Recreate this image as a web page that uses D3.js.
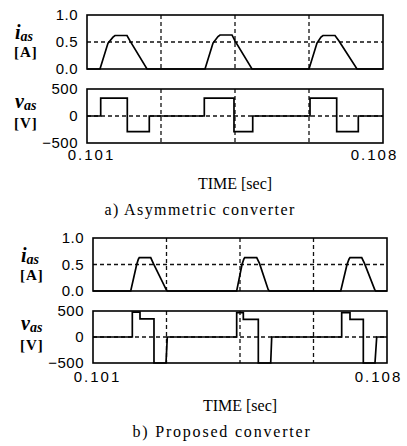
<!DOCTYPE html>
<html><head><meta charset="utf-8">
<script src="https://cdn.jsdelivr.net/npm/d3@7"></script>
<style>
body{margin:0;background:#fff;}
svg{display:block;}
</style></head>
<body><svg id="c" width="407" height="446"></svg>
<script>
// ---------- data ----------
const timeDomain = [0.101, 0.108];
const xTickValues = [0.101, 0.108];
const xTickLabels = ["0.101", "0.108"];
const gridTimes = [0.10275, 0.1045, 0.10625];
const iTicks = [0.0, 0.5, 1.0];
const vTicks = [-500, 0, 500];
const captions = ["a) Asymmetric converter", "b) Proposed converter"];

// a) asymmetric converter: phase current [A]
const iA_t = [0.101, 0.101307, 0.101497, 0.101615, 0.101662, 0.101946, 0.102017, 0.102419,
              0.103791, 0.103980, 0.104098, 0.104145, 0.104429, 0.104500, 0.104902,
              0.106250, 0.106439, 0.106534, 0.106581, 0.106865, 0.106959, 0.107385, 0.108];
const iA_v = [0, 0, 0.48, 0.59, 0.62, 0.62, 0.52, 0,
              0, 0.48, 0.60, 0.63, 0.63, 0.52, 0,
              0, 0.48, 0.59, 0.62, 0.62, 0.52, 0, 0];
// a) phase voltage [V] (step after)
const vA_t = [0.101, 0.101324, 0.101953, 0.102473, 0.103774, 0.104476, 0.104919, 0.106274, 0.106905, 0.107416, 0.108];
const vA_v = [0, 330, -290, 0, 330, -290, 0, 330, -290, 0, 0];

// b) proposed converter: phase current [A]
const iB_t = [0.101, 0.101898, 0.102040, 0.102080, 0.102102, 0.102374, 0.102436, 0.102740, 0.102769,
              0.104421, 0.104548, 0.104590, 0.104612, 0.104898, 0.104964, 0.105170, 0.105198,
              0.106898, 0.107048, 0.107095, 0.107119, 0.107398, 0.107464, 0.107705, 0.107731, 0.108];
const iB_v = [0, 0, 0.50, 0.60, 0.63, 0.63, 0.52, 0.03, 0,
              0, 0.50, 0.60, 0.63, 0.63, 0.52, 0.03, 0,
              0, 0.50, 0.60, 0.63, 0.63, 0.52, 0.03, 0, 0];
// b) phase voltage [V]
const vB_t = [0.101, 0.101936, 0.101936, 0.102119, 0.102119, 0.102452, 0.102452, 0.102738, 0.102769,
              0.104421, 0.104421, 0.104579, 0.104579, 0.104936, 0.104936, 0.105231, 0.105255,
              0.106921, 0.106921, 0.107119, 0.107119, 0.107436, 0.107436, 0.107714, 0.107755, 0.108];
const vB_v = [0, 0, 480, 480, 350, 350, -500, -500, 0,
              0, 470, 470, 340, 340, -500, -500, 0,
              0, 470, 470, 340, 340, -500, -500, 0, 0];

// ---------- layout ----------
const panels = [
  {left: 87, right: 383, iTop: 15, iBot: 69, vTop: 89, vBot: 143, tickY: 160, timeY: 189, capY: 215, capX: 200,
   it: iA_t, iv: iA_v, vt: vA_t, vv: vA_v, step: true, cap: captions[0], capLs: 1.4},
  {left: 93, right: 387, iTop: 238, iBot: 291, vTop: 311, vBot: 363, tickY: 382, timeY: 411, capY: 437, capX: 222,
   it: iB_t, iv: iB_v, vt: vB_t, vv: vB_v, step: false, cap: captions[1], capLs: 1.8}
];

const svg = d3.select("#c");
const serif = "'Liberation Serif','DejaVu Serif',serif";
const sans = "'Liberation Sans',Arial,sans-serif";

panels.forEach((p, k) => {
  const x = d3.scaleLinear().domain(timeDomain).range([p.left, p.right]);
  const yi = d3.scaleLinear().domain([0, 1]).range([p.iBot, p.iTop]);
  const yv = d3.scaleLinear().domain([-500, 500]).range([p.vBot, p.vTop]);
  const g = svg.append("g");

  const sub = [
    {y: yi, top: p.iTop, bot: p.iBot, ticks: iTicks, fmt: d3.format(".1f"), hgrid: 0.5,
     t: p.it, v: p.iv, step: false, sym: "i", unit: "[A]", symY: p.iTop + 24, unitY: p.iTop + 42},
    {y: yv, top: p.vTop, bot: p.vBot, ticks: vTicks, fmt: d3.format("d"), hgrid: 0,
     t: p.vt, v: p.vv, step: p.step, sym: "v", unit: "[V]", symY: p.vTop + 19, unitY: p.vTop + 39}
  ];

  sub.forEach((s, j) => {
    const cid = "clip" + k + "_" + j;
    g.append("clipPath").attr("id", cid).append("rect")
      .attr("x", p.left).attr("y", s.top - 1).attr("width", p.right - p.left).attr("height", s.bot - s.top + 2);

    // grid
    g.append("g").selectAll("line.v").data(gridTimes).join("line")
      .attr("x1", d => x(d)).attr("x2", d => x(d)).attr("y1", s.top).attr("y2", s.bot)
      .attr("stroke", "#111").attr("stroke-width", 1.3).attr("stroke-dasharray", "4,3");
    g.append("line").attr("x1", p.left).attr("x2", p.right).attr("y1", s.y(s.hgrid)).attr("y2", s.y(s.hgrid))
      .attr("stroke", "#111").attr("stroke-width", 1.3).attr("stroke-dasharray", "4,3");

    // waveform
    const data = s.t.map((t, i) => [t, s.v[i]]);
    const line = d3.line().x(d => x(d[0])).y(d => s.y(d[1]))
      .curve(s.step ? d3.curveStepAfter : d3.curveLinear);
    g.append("path").datum(data).attr("d", line).attr("fill", "none")
      .attr("stroke", "#000").attr("stroke-width", 1.7).attr("stroke-linejoin", "miter")
      .attr("clip-path", "url(#" + cid + ")");

    // frame
    g.append("rect").attr("x", p.left).attr("y", s.top).attr("width", p.right - p.left).attr("height", s.bot - s.top)
      .attr("fill", "none").attr("stroke", "#000").attr("stroke-width", 1.6);

    // y axis labels
    const ax = d3.axisLeft(s.y).tickValues(s.ticks).tickFormat(s.fmt).tickSize(0).tickPadding(9);
    const axg = g.append("g").attr("transform", `translate(${p.left},0)`).call(ax);
    axg.select(".domain").remove();
    axg.selectAll("text").attr("font-family", sans).attr("font-size", 15).attr("fill", "#000")
      .attr("letter-spacing", 0.5);

    // symbol labels
    const lx = p.left - 72;
    const st = g.append("text").attr("x", lx).attr("y", s.symY).attr("font-family", serif)
      .attr("font-weight", "bold").attr("font-style", "italic").attr("fill", "#000");
    st.append("tspan").attr("font-size", 20).text(s.sym);
    st.append("tspan").attr("font-size", 14).attr("dy", 2).text("as");
    g.append("text").attr("x", lx - 1).attr("y", s.unitY).attr("font-family", serif)
      .attr("font-weight", "bold").attr("font-size", 15).attr("letter-spacing", 1).attr("fill", "#000").text(s.unit);
  });

  // x tick labels
  const xa = d3.axisBottom(x).tickValues(xTickValues).tickFormat((d, i) => xTickLabels[i]).tickSize(0).tickPadding(0);
  const xg = g.append("g").attr("transform", `translate(0,${p.tickY - 11})`).call(xa);
  xg.select(".domain").remove();
  xg.selectAll("text").attr("font-family", sans).attr("font-size", 15).attr("fill", "#000")
    .attr("letter-spacing", 2).attr("dy", 0).attr("dominant-baseline", "hanging")
    .attr("dx", (d, i) => i === 0 ? 4 : -9);

  g.append("text").attr("x", (p.left + p.right) / 2).attr("y", p.timeY).attr("text-anchor", "middle")
    .attr("font-family", serif).attr("font-size", 16).attr("fill", "#000").text("TIME [sec]");
  g.append("text").attr("x", p.capX).attr("y", p.capY).attr("text-anchor", "middle")
    .attr("font-family", serif).attr("font-size", 16).attr("letter-spacing", p.capLs).attr("fill", "#000").text(p.cap);
});
</script></body></html>
